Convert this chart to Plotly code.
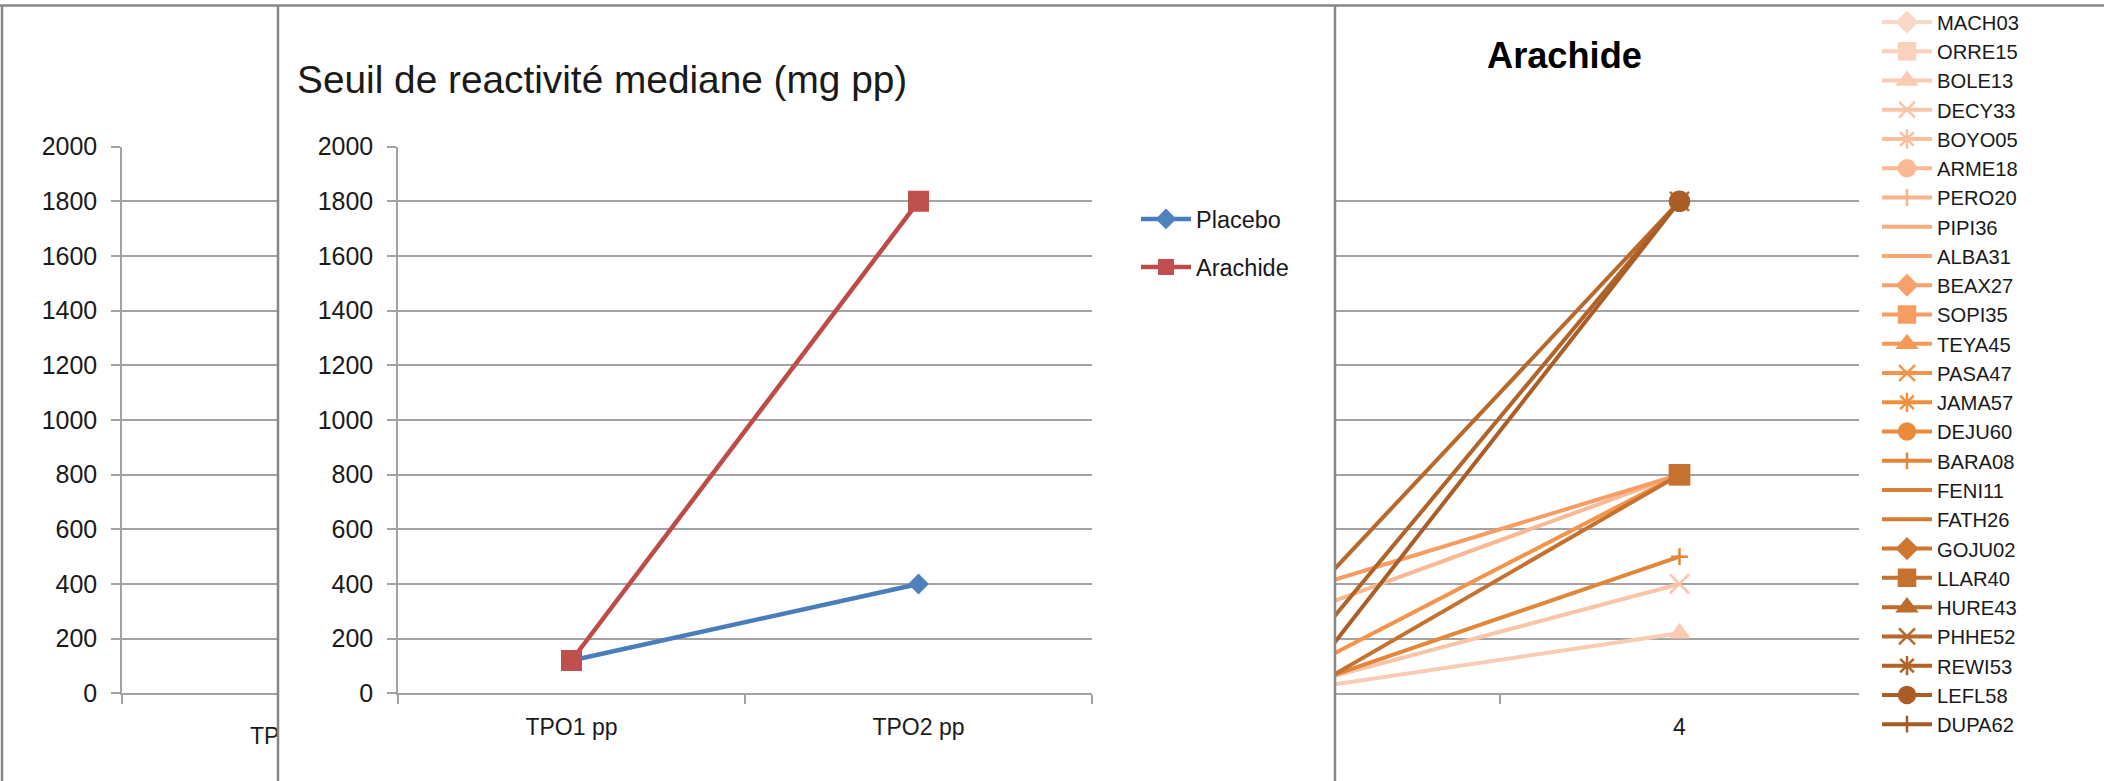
import plotly.graph_objects as go

W, H = 2104, 781

# ---------------- data ----------------
median_categories = ["TPO1 pp", "TPO2 pp"]
placebo_median = [120, 400]
arachide_median = [120, 1800]

arachide_categories = ["3", "4"]
patient_names = ["MACH03", "ORRE15", "BOLE13", "DECY33", "BOYO05", "ARME18", "PERO20",
                 "PIPI36", "ALBA31", "BEAX27", "SOPI35", "TEYA45", "PASA47", "JAMA57",
                 "DEJU60", "BARA08", "FENI11", "FATH26", "GOJU02", "LLAR40", "HURE43",
                 "PHHE52", "REWI53", "LEFL58", "DUPA62"]
patient_first = [None, None, 25, 50, None, 320, None,
                 None, None, None, 400, None, 120, None,
                 None, 50, None, None, None, 40, None,
                 400, 220, 120, None]
patient_second = [None, None, 220, 400, None, 800, None,
                  None, None, None, 800, None, 800, None,
                  None, 500, None, None, None, 800, None,
                  1800, 1800, 1800, None]

y_ticks = [0, 200, 400, 600, 800, 1000, 1200, 1400, 1600, 1800, 2000]

# ---------------- styles ----------------
patient_colors = ["#FAD8C6", "#F9D1BC", "#F9CBB2", "#F9C5A8", "#F8BF9E", "#F8B994", "#F8B38A",
                  "#F8AD80", "#F7A776", "#F7A16C", "#F79C62", "#F79858", "#F4934A", "#F0903F",
                  "#E98B3B", "#E28638", "#DB8135", "#D47C33", "#CD7730", "#C6722E", "#BF6D2C",
                  "#B8682A", "#B16328", "#AA5E26", "#A35A24"]
patient_symbols = ["diamond", "square", "triangle-up", "x-thin-open", "asterisk-open", "circle",
                   "cross-thin-open", "line-ew-open", "line-ew-open"]
symbol_sizes = {"diamond": 15, "square": 19, "triangle-up": 16, "x-thin-open": 19,
                "asterisk-open": 16, "circle": 19, "cross-thin-open": 12, "line-ew-open": 8}

FONT = "Liberation Sans"
TXT = "#1a1a1a"
GRID = "#a3a3a3"
FRAME = "#878787"


def px(x):
    return x / W


def py(y):
    return 1 - y / H


y_top, y_bot = 146.7, 693.3
ydom = [py(y_bot), py(y_top)]

fig = go.Figure()

# chart 1 (mostly hidden behind chart 2)
x_idx = list(range(len(median_categories)))
fig.add_trace(go.Scatter(x=x_idx, y=placebo_median, xaxis="x", yaxis="y", mode="lines+markers",
                         line=dict(color="#4A7EBB", width=4.5), marker=dict(symbol="diamond", size=16, color="#4F81BD"),
                         showlegend=False, hoverinfo="skip"))
fig.add_trace(go.Scatter(x=x_idx, y=arachide_median, xaxis="x", yaxis="y", mode="lines+markers",
                         line=dict(color="#BE4B48", width=4.5), marker=dict(symbol="square", size=21, color="#C0504D"),
                         showlegend=False, hoverinfo="skip"))

# chart 2
fig.add_trace(go.Scatter(x=median_categories, y=placebo_median, xaxis="x2", yaxis="y2", name="Placebo",
                         mode="lines+markers", legend="legend2", legendgroup="p",
                         line=dict(color="#4A7EBB", width=4.5),
                         marker=dict(symbol="diamond", size=16, color="#4F81BD")))
fig.add_trace(go.Scatter(x=median_categories, y=arachide_median, xaxis="x2", yaxis="y2", name="Arachide",
                         mode="lines+markers", legend="legend2", legendgroup="a",
                         line=dict(color="#BE4B48", width=4.5),
                         marker=dict(symbol="square", size=21, color="#C0504D")))

# chart 3
for i, name in enumerate(patient_names):
    sym = patient_symbols[i % len(patient_symbols)]
    col = patient_colors[i]
    size = symbol_sizes[sym]
    if i % 9 == 8:
        size = 13
    fig.add_trace(go.Scatter(x=arachide_categories, y=[patient_first[i], patient_second[i]],
                             xaxis="x3", yaxis="y3", name=name, mode="lines+markers", legend="legend",
                             line=dict(color=col, width=4),
                             marker=dict(symbol=sym, size=size, color=col,
                                         line=dict(color=col, width=2.5))))

tickfont = dict(family=FONT, size=25, color=TXT)
common_y = dict(range=[0, 2000], tickvals=y_ticks, showgrid=True, gridcolor=GRID, gridwidth=1.5,
                zeroline=False, tickfont=tickfont, fixedrange=True)
common_x = dict(showgrid=False, zeroline=False, showline=True, linecolor=GRID, linewidth=1.5,
                ticks="outside", ticklen=9, tickcolor=GRID, tickwidth=1.5,
                tickfont=dict(family=FONT, size=23, color=TXT), ticklabelstandoff=12)

cat_w2 = (1092 - 398) / 2.0
cat_w3 = 1859 - 1500.0
c3_center0 = 1500 - cat_w3 / 2

fig.update_layout(
    width=W, height=H,
    margin=dict(l=0, r=0, t=0, b=0, autoexpand=False),
    paper_bgcolor="white", plot_bgcolor="rgba(0,0,0,0)",
    font=dict(family=FONT, color=TXT),
    xaxis=dict(domain=[px(122), px(278)], anchor="y", type="linear",
               range=[-0.5, -0.5 + (278 - 122) / cat_w2],
               tickmode="array", tickvals=[-0.5], ticktext=[median_categories[0]],
               ticklabelshift=int(round(cat_w2 / 2)), ticklabeloverflow="allow", **common_x),
    yaxis=dict(domain=ydom, anchor="x", showline=True, linecolor=GRID, linewidth=1.5,
               ticks="outside", ticklen=9, tickcolor=GRID, tickwidth=1.5, ticklabelstandoff=9,
               **common_y),
    xaxis2=dict(domain=[px(398), px(1092)], anchor="y2", type="category",
                categoryarray=median_categories, range=[-0.5, 1.5], tickson="boundaries",
                **common_x),
    yaxis2=dict(domain=ydom, anchor="x2", showline=True, linecolor=GRID, linewidth=1.5,
                ticks="outside", ticklen=9, tickcolor=GRID, tickwidth=1.5, ticklabelstandoff=9,
                **common_y),
    xaxis3=dict(domain=[px(1335), px(1859)], anchor="y3", type="category",
                categoryarray=arachide_categories,
                range=[(1335 - c3_center0) / cat_w3, 1.5], tickson="boundaries", **common_x),
    yaxis3=dict(domain=ydom, anchor="x3", showline=False, ticks="", showticklabels=False,
                **common_y),
    legend=dict(x=px(1877), xanchor="left", y=py(2.3), yanchor="top",
                font=dict(family=FONT, size=20.2, color=TXT), itemwidth=50,
                bgcolor="rgba(0,0,0,0)", borderwidth=0, tracegroupgap=0, traceorder="normal"),
    legend2=dict(x=px(1136), xanchor="left", y=py(197.2), yanchor="top",
                 font=dict(family=FONT, size=23.5, color=TXT), itemwidth=50,
                 bgcolor="rgba(0,0,0,0)", borderwidth=0, tracegroupgap=14.5, traceorder="grouped"),
    showlegend=True,
    annotations=[
        dict(text="Seuil de reactivité mediane (mg pp)", xref="paper", yref="paper",
             x=px(295), y=py(80), xanchor="left", yanchor="middle", showarrow=False,
             font=dict(family=FONT, size=38.8, color=TXT)),
        dict(text="<b>Arachide</b>", xref="paper", yref="paper",
             x=px(1564.5), y=py(55), xanchor="center", yanchor="middle", showarrow=False,
             font=dict(family=FONT, size=36.2, color="#000000")),
    ],
    shapes=[
        # white cover clipping chart 1's category label under chart 2's frame
        dict(type="rect", xref="paper", yref="paper", x0=px(279.5), x1=px(391), y0=py(775), y1=py(706),
             fillcolor="white", line=dict(width=0), layer="above"),
        # chart frames
        dict(type="line", xref="paper", yref="paper", x0=0, x1=1, y0=py(5.5), y1=py(5.5),
             line=dict(color=FRAME, width=2.5), layer="above"),
        dict(type="line", xref="paper", yref="paper", x0=px(2), x1=px(2), y0=py(5.5), y1=0,
             line=dict(color=FRAME, width=2.5), layer="above"),
        dict(type="line", xref="paper", yref="paper", x0=px(278), x1=px(278), y0=py(5.5), y1=0,
             line=dict(color=FRAME, width=2.5), layer="above"),
        dict(type="line", xref="paper", yref="paper", x0=px(1335), x1=px(1335), y0=py(5.5), y1=0,
             line=dict(color=FRAME, width=2.5), layer="above"),
    ],
)

fig.write_html("out.html")
